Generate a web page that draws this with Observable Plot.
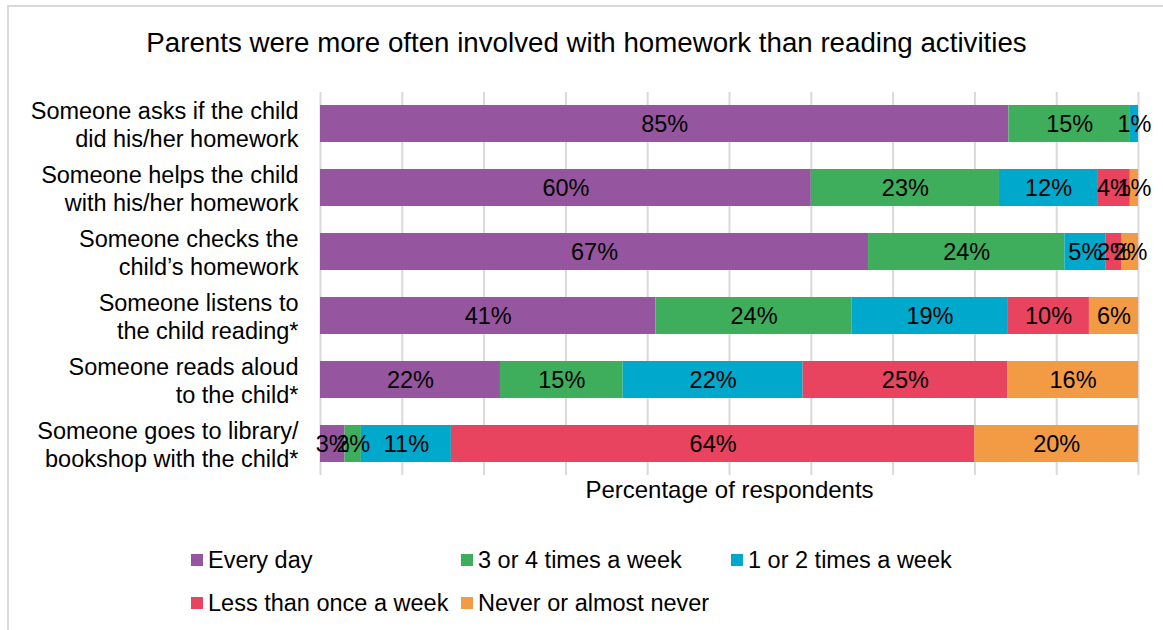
<!DOCTYPE html>
<html>
<head>
<meta charset="utf-8">
<script src="https://cdn.jsdelivr.net/npm/d3@7"></script>
<script src="https://cdn.jsdelivr.net/npm/@observablehq/plot@0.6"></script>
<style>
  html, body { margin: 0; padding: 0; background: #fff; }
  body { width: 1163px; height: 630px; overflow: hidden; font-family: "Liberation Sans", Arial, sans-serif; color: #000; }
  #wrap { position: relative; width: 1163px; height: 630px; }
  #frame { position: absolute; left: 7px; top: 5px; width: 1200px; height: 700px; border-top: 2px solid #d9d9d9; border-left: 2px solid #d9d9d9; box-sizing: border-box; }
  #title { position: absolute; left: 5px; width: 1163px; top: 27px; text-align: center; font-size: 27.7px; line-height: 32px; }
  #chart { position: absolute; left: 0; top: 0; }
  #legend { position: absolute; left: 191px; top: 538px; display: grid; grid-template-columns: 270px 270px 270px; grid-auto-rows: 43px; }
  .item { display: flex; align-items: center; font-size: 23.5px; line-height: 30px; white-space: nowrap; }
  .sw { width: 12px; height: 12px; margin-right: 5px; flex: none; }
</style>
</head>
<body>
<div id="wrap">
  <div id="frame"></div>
  <div id="title"></div>
  <div id="chart"></div>
  <div id="legend"></div>
</div>
<script>
const titleText = "Parents were more often involved with homework than reading activities";
const axisTitle = "Percentage of respondents";
const categories = [
  "Someone asks if the child\ndid his/her homework",
  "Someone helps the child\nwith his/her homework",
  "Someone checks the\nchild\u2019s homework",
  "Someone listens to\nthe child reading*",
  "Someone reads aloud\nto the child*",
  "Someone goes to library/\nbookshop with the child*"
];
const series = ["Every day", "3 or 4 times a week", "1 or 2 times a week", "Less than once a week", "Never or almost never"];
const colors = ["#95569F", "#3EAD5C", "#00A8CC", "#E8435F", "#F39A44"];
const everyDay   = [85, 60, 67, 41, 22, 3];
const threeFour  = [15, 23, 24, 24, 15, 2];
const oneTwo     = [1, 12, 5, 19, 22, 11];
const lessOnce   = [0, 4, 2, 10, 25, 64];
const never      = [0, 1, 2, 6, 16, 20];
const gridTicks  = [0, 0.1, 0.2, 0.3, 0.4, 0.5, 0.6, 0.7, 0.8, 0.9, 1];

const seriesValues = [everyDay, threeFour, oneTwo, lessOnce, never];
const data = [];
categories.forEach((c, i) => {
  series.forEach((s, j) => {
    data.push({category: c, series: s, value: seriesValues[j][i]});
  });
});
const nonZero = data.filter(d => d.value > 0);

document.getElementById("title").textContent = titleText;

const chart = Plot.plot({
  width: 1163,
  height: 520,
  marginLeft: 320,
  marginRight: 25,
  marginTop: 92,
  marginBottom: 45,
  style: {fontFamily: "'Liberation Sans', Arial, sans-serif", fontSize: "23.5px", color: "#000", background: "transparent"},
  x: {domain: [0, 1], axis: null},
  y: {domain: categories, paddingInner: 0.42, paddingOuter: 0.2, label: null},
  color: {domain: series, range: colors},
  marks: [
    Plot.gridX(gridTicks, {stroke: "#d9d9d9", strokeOpacity: 1, strokeWidth: 2}),
    Plot.barX(nonZero, Plot.stackX({x: "value", y: "category", z: "series", fill: "series", offset: "normalize", order: null})),
    Plot.text(nonZero, Plot.stackX({x: "value", y: "category", z: "series", offset: "normalize", order: null, text: d => d.value + "%", fill: "#000", fontSize: 23.5})),
    Plot.axisY({tickSize: 0, tickPadding: 22, fontSize: 23.5, lineHeight: 1.2, textAnchor: "end", label: null}),
    Plot.text([axisTitle], {frameAnchor: "bottom", dy: 22, fontSize: 24, fill: "#000"})
  ]
});
document.getElementById("chart").appendChild(chart);

const legend = document.getElementById("legend");
series.forEach((s, j) => {
  const it = document.createElement("div");
  it.className = "item";
  const sw = document.createElement("span");
  sw.className = "sw";
  sw.style.background = colors[j];
  const tx = document.createElement("span");
  tx.textContent = s;
  it.appendChild(sw);
  it.appendChild(tx);
  legend.appendChild(it);
});
</script>
</body>
</html>
